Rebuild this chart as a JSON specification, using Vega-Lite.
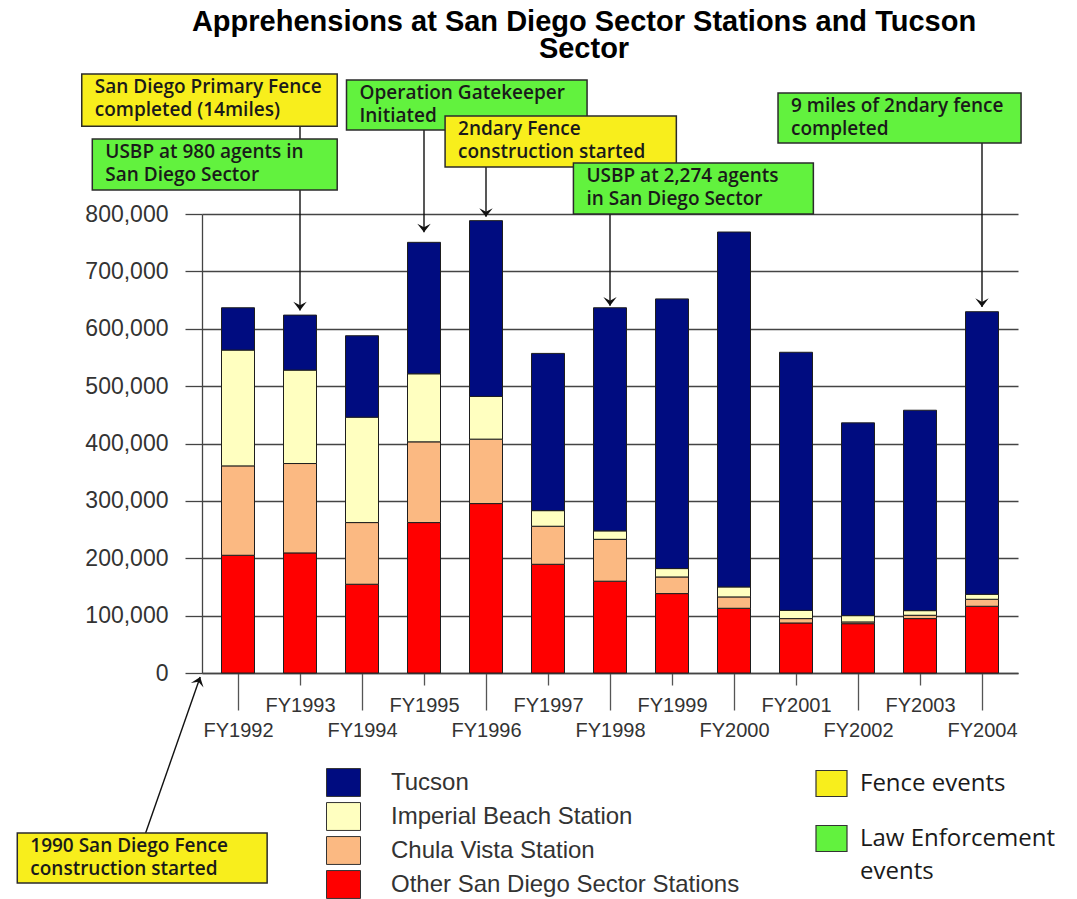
{
  "$schema": "https://vega.github.io/schema/vega-lite/v6.json",
  "width": 816,
  "height": 459,
  "autosize": {"type": "none"},
  "padding": {"left": 202, "top": 214, "right": 59, "bottom": 226},
  "background": "white",
  "config": {"view": {"stroke": null}, "font": "Liberation Sans", "style": {"guide-label": {"lineHeight": 33}}},
  "title": {
    "text": ["Apprehensions at San Diego Sector Stations and Tucson", "Sector"],
    "font": "Liberation Sans",
    "fontSize": 29,
    "fontWeight": "bold",
    "color": "#000000",
    "anchor": "middle",
    "frame": "group",
    "dx": -26,
    "offset": 9,
    "lineHeight": 27
  },
  "datasets": {
    "apprehensions": [
      {"fy": 1992, "station": "Other San Diego Sector Stations", "apprehensions": 205200},
      {"fy": 1992, "station": "Chula Vista Station", "apprehensions": 155800},
      {"fy": 1992, "station": "Imperial Beach Station", "apprehensions": 201800},
      {"fy": 1992, "station": "Tucson", "apprehensions": 73800},
      {"fy": 1993, "station": "Other San Diego Sector Stations", "apprehensions": 209300},
      {"fy": 1993, "station": "Chula Vista Station", "apprehensions": 155800},
      {"fy": 1993, "station": "Imperial Beach Station", "apprehensions": 162800},
      {"fy": 1993, "station": "Tucson", "apprehensions": 95900},
      {"fy": 1994, "station": "Other San Diego Sector Stations", "apprehensions": 154700},
      {"fy": 1994, "station": "Chula Vista Station", "apprehensions": 107500},
      {"fy": 1994, "station": "Imperial Beach Station", "apprehensions": 183700},
      {"fy": 1994, "station": "Tucson", "apprehensions": 141900},
      {"fy": 1995, "station": "Other San Diego Sector Stations", "apprehensions": 262200},
      {"fy": 1995, "station": "Chula Vista Station", "apprehensions": 140700},
      {"fy": 1995, "station": "Imperial Beach Station", "apprehensions": 118600},
      {"fy": 1995, "station": "Tucson", "apprehensions": 229100},
      {"fy": 1996, "station": "Other San Diego Sector Stations", "apprehensions": 295300},
      {"fy": 1996, "station": "Chula Vista Station", "apprehensions": 112300},
      {"fy": 1996, "station": "Imperial Beach Station", "apprehensions": 74400},
      {"fy": 1996, "station": "Tucson", "apprehensions": 306400},
      {"fy": 1997, "station": "Other San Diego Sector Stations", "apprehensions": 189500},
      {"fy": 1997, "station": "Chula Vista Station", "apprehensions": 66300},
      {"fy": 1997, "station": "Imperial Beach Station", "apprehensions": 27200},
      {"fy": 1997, "station": "Tucson", "apprehensions": 274000},
      {"fy": 1998, "station": "Other San Diego Sector Stations", "apprehensions": 160000},
      {"fy": 1998, "station": "Chula Vista Station", "apprehensions": 73000},
      {"fy": 1998, "station": "Imperial Beach Station", "apprehensions": 14700},
      {"fy": 1998, "station": "Tucson", "apprehensions": 388900},
      {"fy": 1999, "station": "Other San Diego Sector Stations", "apprehensions": 138400},
      {"fy": 1999, "station": "Chula Vista Station", "apprehensions": 29000},
      {"fy": 1999, "station": "Imperial Beach Station", "apprehensions": 14600},
      {"fy": 1999, "station": "Tucson", "apprehensions": 470000},
      {"fy": 2000, "station": "Other San Diego Sector Stations", "apprehensions": 112800},
      {"fy": 2000, "station": "Chula Vista Station", "apprehensions": 19800},
      {"fy": 2000, "station": "Imperial Beach Station", "apprehensions": 17400},
      {"fy": 2000, "station": "Tucson", "apprehensions": 618600},
      {"fy": 2001, "station": "Other San Diego Sector Stations", "apprehensions": 87200},
      {"fy": 2001, "station": "Chula Vista Station", "apprehensions": 7600},
      {"fy": 2001, "station": "Imperial Beach Station", "apprehensions": 14300},
      {"fy": 2001, "station": "Tucson", "apprehensions": 449900},
      {"fy": 2002, "station": "Other San Diego Sector Stations", "apprehensions": 86000},
      {"fy": 2002, "station": "Chula Vista Station", "apprehensions": 3000},
      {"fy": 2002, "station": "Imperial Beach Station", "apprehensions": 11000},
      {"fy": 2002, "station": "Tucson", "apprehensions": 336000},
      {"fy": 2003, "station": "Other San Diego Sector Stations", "apprehensions": 94800},
      {"fy": 2003, "station": "Chula Vista Station", "apprehensions": 5800},
      {"fy": 2003, "station": "Imperial Beach Station", "apprehensions": 8100},
      {"fy": 2003, "station": "Tucson", "apprehensions": 349300},
      {"fy": 2004, "station": "Other San Diego Sector Stations", "apprehensions": 116300},
      {"fy": 2004, "station": "Chula Vista Station", "apprehensions": 12200},
      {"fy": 2004, "station": "Imperial Beach Station", "apprehensions": 8700},
      {"fy": 2004, "station": "Tucson", "apprehensions": 492500}
    ],
    "annotations": [
      {"label": "San Diego Primary Fence\ncompleted (14miles)", "type": "Fence events", "yearStart": 1989.48, "yearEnd": 1993.6, "valueTop": 1044000, "valueBottom": 953000},
      {"label": "USBP at 980  agents in\nSan Diego Sector", "type": "Law Enforcement events", "yearStart": 1989.65, "yearEnd": 1993.6, "valueTop": 930700, "valueBottom": 841800},
      {"label": "Operation Gatekeeper\nInitiated", "type": "Law Enforcement events", "yearStart": 1993.75, "yearEnd": 1997.63, "valueTop": 1033500, "valueBottom": 946400},
      {"label": "2ndary Fence\nconstruction started", "type": "Fence events", "yearStart": 1995.34, "yearEnd": 1999.07, "valueTop": 970800, "valueBottom": 881900},
      {"label": "USBP at 2,274  agents\nin San Diego Sector", "type": "Law Enforcement events", "yearStart": 1997.41, "yearEnd": 2001.28, "valueTop": 888900, "valueBottom": 800000},
      {"label": "9 miles of 2ndary fence\ncompleted", "type": "Law Enforcement events", "yearStart": 2000.71, "yearEnd": 2004.63, "valueTop": 1010900, "valueBottom": 923700},
      {"label": "1990 San Diego Fence\nconstruction started", "type": "Fence events", "yearStart": 1988.44, "yearEnd": 1992.47, "valueTop": -278900, "valueBottom": -366000}
    ],
    "arrows": [
      {"fromYear": 1993, "fromValue": 953000, "toYear": 1993, "toValue": 632000},
      {"fromYear": 1995, "fromValue": 946400, "toYear": 1995, "toValue": 768000},
      {"fromYear": 1996, "fromValue": 881900, "toYear": 1996, "toValue": 795000},
      {"fromYear": 1998, "fromValue": 800000, "toYear": 1998, "toValue": 640000},
      {"fromYear": 2004, "fromValue": 923700, "toYear": 2004, "toValue": 638000},
      {"fromYear": 1990.51, "fromValue": -279000, "toYear": 1991.39, "toValue": -7000}
    ]
  },
  "layer": [
    {
      "data": {"name": "apprehensions"},
      "transform": [
        {"calculate": "indexof(['Other San Diego Sector Stations', 'Chula Vista Station', 'Imperial Beach Station', 'Tucson'], datum.station)", "as": "stackOrder"}
      ],
      "mark": {"type": "bar", "width": 33, "stroke": "#1e1e1e", "strokeWidth": 1},
      "encoding": {
        "x": {
          "field": "fy", "type": "quantitative",
          "scale": {"domain": [1991.5, 2004.5], "nice": false, "zero": false},
          "axis": {
            "values": [1992, 1993, 1994, 1995, 1996, 1997, 1998, 1999, 2000, 2001, 2002, 2003, 2004],
            "title": null,
            "grid": false,
            "labelExpr": "'FY' + datum.value",
            "labelFont": "Liberation Sans",
            "labelFontSize": 20,
            "labelColor": "#333333",
            "labelBaseline": "top",
            "labelPadding": 10,
            "labelFlush": false,
            "labelOverlap": false,
            "tickSize": {"condition": {"test": "datum.value % 2 == 0", "value": 37}, "value": 12},
            "tickColor": "#555555",
            "tickWidth": 1.3,
            "domainColor": "#444444",
            "domainWidth": 1.3
          }
        },
        "y": {
          "field": "apprehensions", "type": "quantitative", "stack": "zero",
          "scale": {"domain": [0, 800000], "nice": false},
          "axis": {
            "values": [0, 100000, 200000, 300000, 400000, 500000, 600000, 700000, 800000],
            "format": ",d",
            "title": null,
            "grid": true,
            "gridColor": "#444444",
            "gridWidth": 1.3,
            "domainColor": "#444444",
            "domainWidth": 1.3,
            "tickSize": 17,
            "tickColor": "#444444",
            "tickWidth": 1.3,
            "labelFont": "Liberation Sans",
            "labelFontSize": 23,
            "labelColor": "#333333",
            "labelPadding": 17
          }
        },
        "color": {
          "field": "station", "type": "nominal",
          "scale": {
            "domain": ["Tucson", "Imperial Beach Station", "Chula Vista Station", "Other San Diego Sector Stations"],
            "range": ["#000c80", "#ffffc0", "#fbb982", "#ff0000"]
          },
          "legend": {
            "orient": "none", "legendX": 124, "legendY": 551, "title": null,
            "symbolType": "M-1,-0.82H1V0.82H-1Z", "symbolSize": 1156,
            "symbolStrokeColor": "#333333", "symbolStrokeWidth": 1, "symbolOpacity": 1,
            "labelFont": "Liberation Sans", "labelFontSize": 24, "labelColor": "#333333",
            "labelOffset": 30, "labelLimit": 500, "rowPadding": 0
          }
        },
        "order": {"field": "stackOrder", "type": "quantitative", "sort": "ascending"}
      }
    },
    {
      "data": {"name": "arrows"},
      "mark": {"type": "rule", "color": "#111111", "strokeWidth": 1.4},
      "encoding": {
        "x": {"field": "fromYear", "type": "quantitative"},
        "x2": {"field": "toYear"},
        "y": {"field": "fromValue", "type": "quantitative"},
        "y2": {"field": "toValue"}
      }
    },
    {
      "data": {"name": "annotations"},
      "mark": {"type": "rect", "stroke": "#2b2b2b", "strokeWidth": 1.5},
      "encoding": {
        "x": {"field": "yearStart", "type": "quantitative"},
        "x2": {"field": "yearEnd"},
        "y": {"field": "valueTop", "type": "quantitative"},
        "y2": {"field": "valueBottom"},
        "fill": {
          "field": "type", "type": "nominal",
          "scale": {"domain": ["Fence events", "Law Enforcement events"], "range": ["#f8ee1c", "#62f23e"]},
          "legend": {
            "orient": "none", "legendX": 613, "legendY": 553, "title": null,
            "symbolType": "M-1,-0.84H1V0.84H-1Z", "symbolSize": 961,
            "symbolStrokeColor": "#333333", "symbolStrokeWidth": 1.2, "symbolOpacity": 1,
            "labelFont": "Open Sans", "labelFontSize": 24, "labelColor": "#1a1a1a",
            "labelOffset": 12, "labelLimit": 400, "rowPadding": 23,
            "labelExpr": "datum.label == 'Law Enforcement events' ? ['Law Enforcement', 'events'] : datum.label"
          }
        }
      }
    },
    {
      "data": {"name": "annotations"},
      "mark": {"type": "text", "align": "left", "baseline": "top", "dx": 13, "dy": 4, "lineBreak": "\n", "font": "Open Sans", "fontSize": 19, "fontWeight": 600, "lineHeight": 23, "fill": "#1a1a1a"},
      "encoding": {
        "x": {"field": "yearStart", "type": "quantitative"},
        "y": {"field": "valueTop", "type": "quantitative"},
        "text": {"field": "label", "type": "nominal"}
      }
    },
    {
      "data": {"name": "arrows"},
      "transform": [{"filter": "datum.fromYear == datum.toYear"}],
      "mark": {"type": "point", "shape": "M0,0L-1,-1.3L0,-0.75L1,-1.3Z", "filled": true, "fill": "#111111", "strokeWidth": 0, "size": 180, "opacity": 1},
      "encoding": {
        "x": {"field": "toYear", "type": "quantitative"},
        "y": {"field": "toValue", "type": "quantitative"}
      }
    },
    {
      "data": {"name": "arrows"},
      "transform": [{"filter": "datum.fromYear != datum.toYear"}],
      "mark": {"type": "point", "shape": "M0,0L-1,-1.3L0,-0.75L1,-1.3Z", "filled": true, "fill": "#111111", "strokeWidth": 0, "size": 180, "opacity": 1, "angle": 200},
      "encoding": {
        "x": {"field": "toYear", "type": "quantitative"},
        "y": {"field": "toValue", "type": "quantitative"}
      }
    }
  ]
}
